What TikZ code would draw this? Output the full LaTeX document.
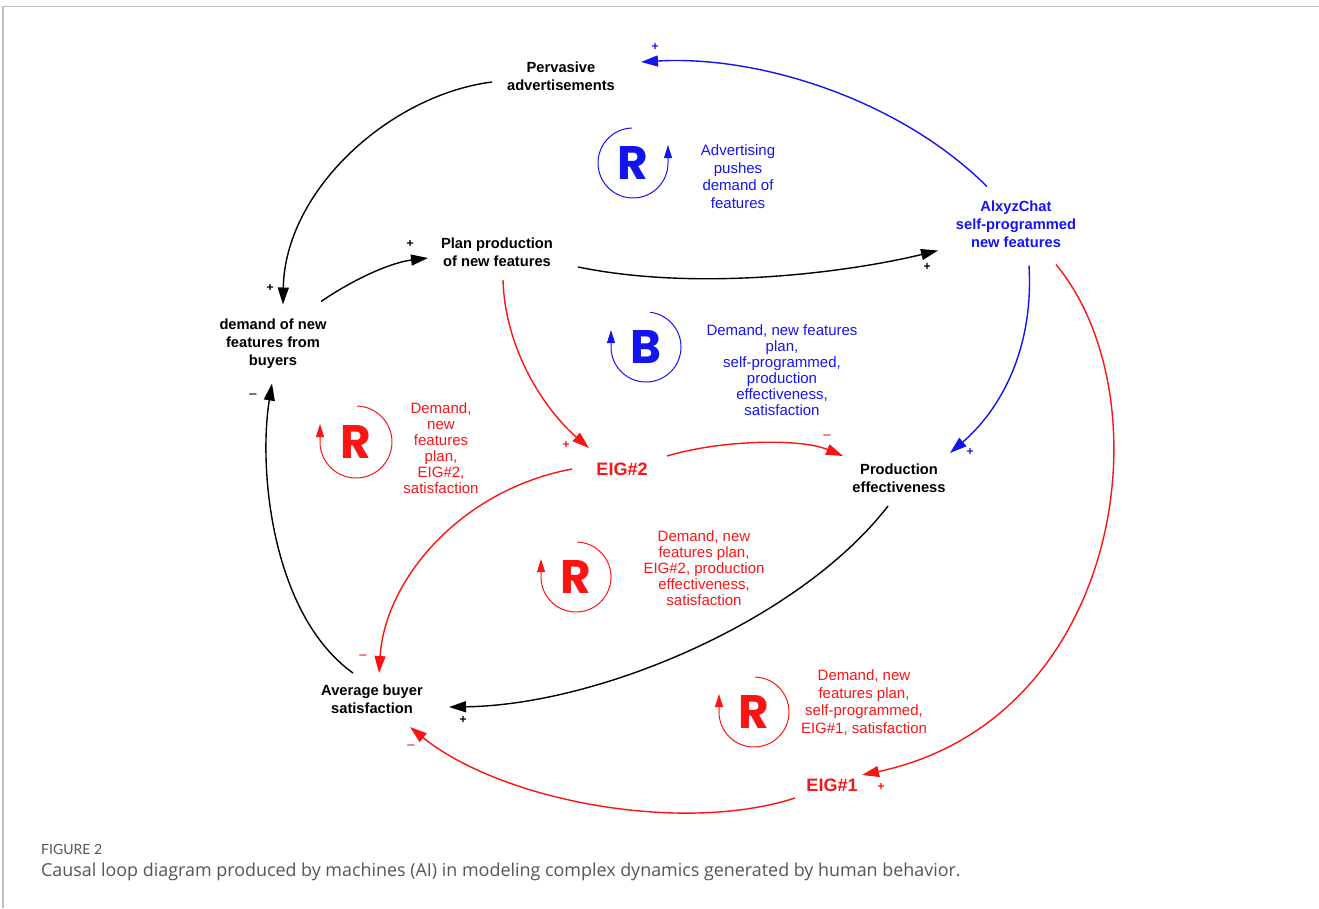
\documentclass[tikz,border=0pt]{standalone}
\usepackage{fontspec}
\setmainfont{Liberation Sans}
\newfontfamily\loopfont{Poppins}
\newfontfamily\capfont{Lato}
\newfontfamily\captextfont{Open Sans}
\usetikzlibrary{arrows.meta}
\definecolor{cblue}{RGB}{20,20,240}
\definecolor{cred}{RGB}{250,20,20}
\definecolor{capgray}{RGB}{85,85,85}
\definecolor{framegray}{RGB}{190,190,190}
\begin{document}
\begin{tikzpicture}[x=1pt,y=-1pt,
  var/.style={font=\fontsize{14.7}{18}\selectfont\bfseries, align=center, inner sep=0pt},
  eig/.style={font=\fontsize{18}{20}\selectfont\bfseries, text=cred, inner sep=0pt},
  lbl/.style={font=\fontsize{15}{16}\selectfont, align=center, inner sep=0pt},
  lbltall/.style={font=\fontsize{15}{17.7}\selectfont, align=center, inner sep=0pt},
  link/.style={line width=1.4pt, -{Triangle[length=17pt,width=11pt]}},
  pol/.style={font=\fontsize{12}{12}\selectfont\bfseries, inner sep=0pt},
  polm/.style={font=\fontsize{15}{15}\selectfont, inner sep=0pt},
  loopsym/.style={font=\fontsize{47}{47}\loopfont\bfseries, inner sep=0pt},
  looparc/.style={line width=1pt, -{Triangle[length=13pt,width=8pt]}}]
\useasboundingbox (0,0) rectangle (1319,908);
% frame
\draw[framegray, line width=1.2pt] (3,908) -- (3,6.5) -- (1319,6.5);

% variables
\node[var] (pa) at (561,76) {Pervasive\\advertisements};
\node[var] (pp) at (497,252) {Plan production\\of new features};
\node[var, text=cblue] (ai) at (1016,224.5) {AlxyzChat\\self-programmed\\new features};
\node[var] (dn) at (273,343.5) {demand of new\\features from\\buyers};
\node[eig] (e2) at (622,469) {EIG\#2};
\node[var] (pe) at (899,478) {Production\\effectiveness};
\node[var] (ab) at (372,699) {Average buyer\\satisfaction};
\node[eig] (e1) at (832,785) {EIG\#1};

% links
\draw[link] ([shift={(-69,6)}]pa.center) .. controls (390,95) and (285,190) .. ([shift={(10,-39)}]dn.center);
\draw[link] ([shift={(48,-42)}]dn.center) .. controls (360,275) and (395,262) .. ([shift={(-69,6)}]pp.center);
\draw[link] ([shift={(81,15)}]pp.center) .. controls (700,292) and (850,272) .. ([shift={(-78,26)}]ai.center);
\draw[link, cblue] ([shift={(-29,-38)}]ai.center) .. controls (900,100) and (760,55) .. ([shift={(80,-14)}]pa.center);
\draw[link, cblue] ([shift={(13,41)}]ai.center) .. controls (1034,350) and (1000,410) .. ([shift={(51,-25)}]pe.center);
\draw[link, cred] ([shift={(6,28)}]pp.center) .. controls (505,350) and (545,410) .. ([shift={(-33,-21)}]e2.center);
\draw[link, cred] ([shift={(45,-13)}]e2.center) .. controls (720,440) and (800,438) .. ([shift={(-56,-22)}]pe.center);
\draw[link, cred] ([shift={(-50,0)}]e2.center) .. controls (460,490) and (385,580) .. ([shift={(7,-26)}]ab.center);
\draw[link] ([shift={(-11,28)}]pe.center) .. controls (800,620) and (600,705) .. ([shift={(77,8)}]ab.center);
\draw[link] ([shift={(-19,-26)}]ab.center) .. controls (272,615) and (258,470) .. ([shift={(-1,40)}]dn.center);
\draw[link, cred] ([shift={(40,40)}]ai.center) .. controls (1168,400) and (1122,720) .. ([shift={(30,-10)}]e1.center);
\draw[link, cred] ([shift={(-37,13)}]e1.center) .. controls (680,835) and (500,800) .. ([shift={(38,28)}]ab.center);

% polarities
\node[pol] (s1) at (270,288) {+};
\node[pol] (s2) at (410,244) {+};
\node[pol] (s3) at (927,267) {+};
\node[pol, text=cblue] (s4) at (655,47) {+};
\node[pol, text=cblue] (s5) at (970,452) {+};
\node[pol, text=cred] (s6) at (566,445) {+};
\node[polm, text=cred] (s7) at (827,438) {−};
\node[polm, text=cred] (s8) at (363,658) {−};
\node[pol] (s9) at (463,720) {+};
\node[polm] (s10) at (253,397) {−};
\node[pol, text=cred] (s11) at (881,787) {+};
\node[polm, text=cred] (s12) at (411,748) {−};

% loop symbols
\node[loopsym, text=cblue] (lr1) at (633,163) {R};
\draw[looparc, cblue] (lr1.center) ++(-92:35) arc[start angle=-92, end angle=-360, radius=35] -- ++(0,-18);
\node[lbltall, text=cblue] (lt1) at (738,176.5) {Advertising\\pushes\\demand of\\features};

\node[loopsym, text=cblue] (lb) at (646,347) {B};
\draw[looparc, cblue] (lb.center) ++(-83:35) arc[start angle=-83, end angle=180, radius=35] -- ++(0,-17);
\node[lbl, text=cblue] (lt2) at (782,370.5) {Demand, new features\\plan,\\self-programmed,\\production\\effectiveness,\\satisfaction};

\node[loopsym, text=cred] (lr2) at (356,442) {R};
\draw[looparc, cred] (lr2.center) ++(-88:36) arc[start angle=-88, end angle=180, radius=36] -- ++(0,-18);
\node[lbl, text=cred] (lt3) at (441,448) {Demand,\\new\\features\\plan,\\EIG\#2,\\satisfaction};

\node[loopsym, text=cred] (lr3) at (576,577) {R};
\draw[looparc, cred] (lr3.center) ++(-88:35) arc[start angle=-88, end angle=180, radius=35] -- ++(0,-18);
\node[lbl, text=cred] (lt4) at (704,568) {Demand, new\\features plan,\\EIG\#2, production\\effectiveness,\\satisfaction};

\node[loopsym, text=cred] (lr4) at (754,712) {R};
\draw[looparc, cred] (lr4.center) ++(-88:35) arc[start angle=-88, end angle=180, radius=35] -- ++(0,-18);
\node[lbltall, text=cred] (lt5) at (864,702.5) {Demand, new\\features plan,\\self-programmed,\\EIG\#1, satisfaction};

% caption
\node[anchor=west, inner sep=0pt, text=capgray, font=\fontsize{14}{14}\capfont] (fig) at (41,849) {FIGURE 2};
\node[anchor=west, inner sep=0pt, text=capgray, font=\fontsize{17.9}{18}\captextfont] (cap) at (41,872) {Causal loop diagram produced by machines (AI) in modeling complex dynamics generated by human behavior.};
\end{tikzpicture}
\end{document}
